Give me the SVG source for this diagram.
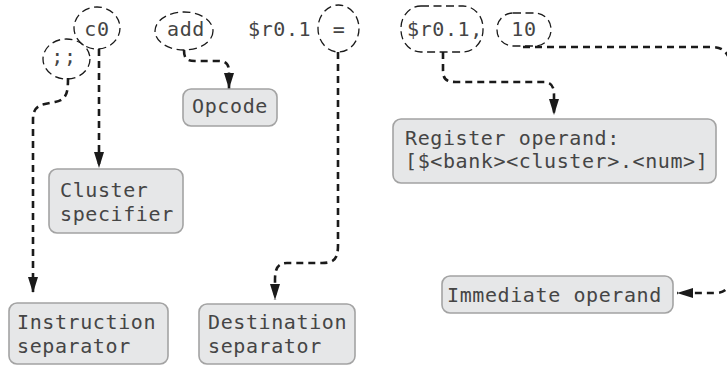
<svg xmlns="http://www.w3.org/2000/svg" width="727" height="366" viewBox="0 0 727 366">
<style>
.tok{fill:none;stroke:#1a1a1a;stroke-width:1.3;stroke-dasharray:8 4.5}
.box{fill:#e6e7e8;stroke:#a3a3a3;stroke-width:1.6}
.t{font-family:"DejaVu Sans Mono","Liberation Mono",monospace;font-size:20px;letter-spacing:0.6px;fill:#454545}
.m{text-anchor:middle}
.c{fill:none;stroke:#1a1a1a;stroke-width:2.6;stroke-dasharray:7 5}
</style>
<defs>
<marker id="ah" markerUnits="userSpaceOnUse" viewBox="0 0 16 10" markerWidth="16" markerHeight="10" refX="16" refY="5" orient="auto">
<path d="M0,0 L16,5 L0,10 z" fill="#1a1a1a"/>
</marker>
</defs>
<rect width="727" height="366" fill="#fff"/>
<g id="tokens">
<g id="tok-c0"><ellipse class="tok" cx="97" cy="28" rx="23" ry="21"/><text class="t m" x="97" y="36">c0</text></g>
<g id="tok-sep"><ellipse class="tok" cx="66.5" cy="59" rx="23.5" ry="20"/><text class="t m" x="64" y="63">;;</text></g>
<g id="tok-add"><ellipse class="tok" cx="184" cy="31" rx="29" ry="19"/><text class="t m" x="186" y="36">add</text></g>
<g id="tok-r0"><text class="t" x="248" y="36">$r0.1</text></g>
<g id="tok-eq"><ellipse class="tok" cx="338.5" cy="28.5" rx="20.5" ry="23.5"/><text class="t m" x="339" y="36">=</text></g>
<g id="tok-r0b"><rect class="tok" x="401" y="6" width="82" height="46" rx="20" ry="22"/><text class="t" x="407" y="36">$r0.1,</text></g>
<g id="tok-10"><rect class="tok" x="497" y="13" width="54" height="33" rx="16" ry="16"/><text class="t m" x="524" y="36">10</text></g>
</g>
<g id="connectors">
<path class="c" marker-end="url(#ah)" d="M99,49 V168"/>
<path class="c" marker-end="url(#ah)" d="M68,78 C68,92 67,100 55,102 L45,104 C36,106 33,110 33,120 V293"/>
<path class="c" marker-end="url(#ah)" d="M184,50 C184,58 186,61 195,61 H218 C226,61 229,64 229,72 V89"/>
<path class="c" marker-end="url(#ah)" d="M338,52 V245 C338,258 335,263 322,263 H287 C278,263 275,268 275,280 V300"/>
<path class="c" marker-end="url(#ah)" d="M443,52 V70 C443,79 446,82 456,82 H544 C551,82 554,86 554,95 V115"/>
<path class="c" marker-end="url(#ah)" d="M523,47 H712 C722,47 728,52 730,62 V280 C729,288 725,293 715,293 H677"/>
</g>
<g id="n-opcode"><rect class="box" x="183" y="89" width="94" height="37" rx="8"/><text class="t m" x="230" y="113">Opcode</text></g>
<g id="n-cluster"><rect class="box" x="49" y="169" width="134" height="64" rx="8"/><text class="t" x="60" y="197">Cluster</text><text class="t" x="60" y="221">specifier</text></g>
<g id="n-register"><rect class="box" x="393" y="119" width="323" height="64" rx="8"/><text class="t" x="405" y="145">Register operand:</text><text class="t" x="405" y="168">[$&lt;bank&gt;&lt;cluster&gt;.&lt;num&gt;]</text></g>
<g id="n-immediate"><rect class="box" x="442" y="276" width="231" height="37" rx="8"/><text class="t" x="447" y="302">Immediate operand</text></g>
<g id="n-instr"><rect class="box" x="9" y="303" width="159" height="61" rx="8"/><text class="t" x="17" y="329">Instruction</text><text class="t" x="17" y="353">separator</text></g>
<g id="n-dest"><rect class="box" x="199" y="304" width="156" height="60" rx="8"/><text class="t" x="208" y="329">Destination</text><text class="t" x="208" y="353">separator</text></g>
</svg>
